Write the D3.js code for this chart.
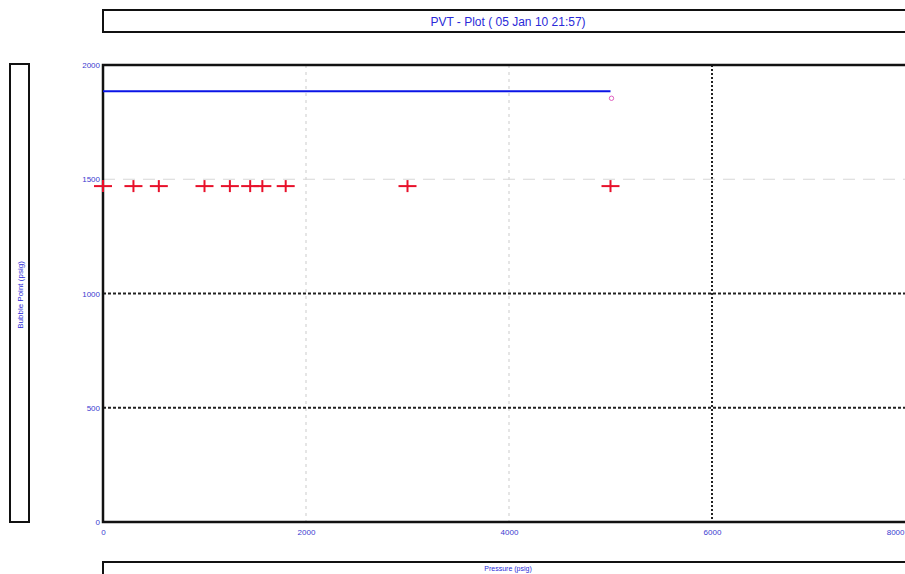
<!DOCTYPE html>
<html lang="en">
  <head>
    <meta charset="utf-8">
    <title>PVT - Plot</title>
    <script src="https://cdn.jsdelivr.net/npm/d3@7"></script>
    <style>
    body{margin:0;background:#fff;}
    svg{display:block;font-family:"Liberation Sans",Arial,sans-serif;}
    .box{fill:none;stroke:#111;stroke-width:2px;}
    .axis text{fill:#3b3bd0;font-size:8px;}
    .lbl{fill:#2a2ad8;}
    </style>
  </head>
  <body>
    <svg></svg>
    <script>
      // measured samples (psig)
      var pressure=[0,300,550,1000,1250,1450,1570,1800,3000,5000];
      var bubblePoint=[1470,1470,1470,1470,1470,1470,1470,1470,1470,1470];
      // calculated bubble point curve
      var curvePressure=[0,5000];
      var curveBubble=[1885,1885];
      var xTicks=[0,2000,4000,6000,8000];
      var yTicks=[0,500,1000,1500,2000];

      var width=905, height=574;
      var padLeft=103, padTop=65, padBottom=522, padRight=915;

      var svg=d3.select("svg").attr("width",width).attr("height",height);

      var xscale=d3.scaleLinear().domain([0,8000]).range([padLeft,padRight]);
      var yscale=d3.scaleLinear().domain([0,2000]).range([padBottom,padTop]);

      // outer frames
      svg.append("rect").attr("class","box")
         .attr("x",103).attr("y",10).attr("width",820).attr("height",22);
      svg.append("text").attr("class","lbl")
         .attr("x",508).attr("y",26).attr("text-anchor","middle")
         .style("font-size","12px")
         .text("PVT - Plot ( 05 Jan 10  21:57)");

      svg.append("rect").attr("class","box")
         .attr("x",10).attr("y",64).attr("width",19).attr("height",458);
      svg.append("text").attr("class","lbl")
         .attr("transform","translate(23,295) rotate(-90)")
         .attr("text-anchor","middle")
         .style("font-size","8px")
         .text("Bubble Point (psig)");

      svg.append("rect").attr("class","box")
         .attr("x",103).attr("y",562).attr("width",820).attr("height",30);
      svg.append("text").attr("class","lbl")
         .attr("x",508).attr("y",571).attr("text-anchor","middle")
         .style("font-size","7px")
         .text("Pressure (psig)");

      // grid
      var grid=svg.append("g");
      grid.selectAll("line.vx")
          .data(xTicks.filter(function(d){return d>0&&d<8000;}))
          .enter().append("line")
          .attr("x1",function(d){return xscale(d);})
          .attr("x2",function(d){return xscale(d);})
          .attr("y1",padTop).attr("y2",padBottom)
          .attr("stroke",function(d){return d==6000?"#222":"#d4d4d4";})
          .attr("stroke-width",function(d){return d==6000?2:1.2;})
          .attr("stroke-dasharray",function(d){return d==6000?"2,2":"3,4";});
      grid.selectAll("line.hy")
          .data(yTicks.filter(function(d){return d>0&&d<2000;}))
          .enter().append("line")
          .attr("y1",function(d){return yscale(d);})
          .attr("y2",function(d){return yscale(d);})
          .attr("x1",padLeft).attr("x2",padRight)
          .attr("stroke",function(d){return d==1500?"#d8d8d8":"#222";})
          .attr("stroke-width",function(d){return d==1500?1.2:2;})
          .attr("stroke-dasharray",function(d){return d==1500?"12,8":"3,2";});

      // axes
      var xAxis=d3.axisBottom(xscale).tickValues(xTicks).tickSize(0).tickPadding(7)
                  .tickFormat(d3.format("d"));
      var yAxis=d3.axisLeft(yscale).tickValues(yTicks).tickSize(0).tickPadding(3)
                  .tickFormat(d3.format("d"));
      svg.append("g").attr("class","axis")
         .attr("transform","translate(0,"+padBottom+")")
         .call(xAxis).call(function(g){
           g.select(".domain").remove();
           // last label kept inside the window
           g.selectAll(".tick").filter(function(d){return d==8000;})
            .select("text").attr("text-anchor","end").attr("x",width-padRight-1);
         });
      svg.append("g").attr("class","axis")
         .attr("transform","translate("+padLeft+",0)")
         .call(yAxis).call(function(g){g.select(".domain").remove();});

      // plot frame (left, top, bottom)
      svg.append("path")
         .attr("d","M"+padRight+","+padTop+"H"+padLeft+"V"+padBottom+"H"+padRight)
         .attr("fill","none").attr("stroke","#111").attr("stroke-width",2.5);

      // curve
      var line=d3.line()
                 .x(function(d){return xscale(d[0]);})
                 .y(function(d){return yscale(d[1]);});
      svg.append("path")
         .datum(d3.zip(curvePressure,curveBubble))
         .attr("d",line)
         .attr("fill","none").attr("stroke","#0a14e6").attr("stroke-width",2);
      svg.append("circle")
         .attr("cx",xscale(curvePressure[curvePressure.length-1])+1)
         .attr("cy",yscale(curveBubble[curveBubble.length-1])+7)
         .attr("r",2.2)
         .attr("fill","none").attr("stroke","#e060c0").attr("stroke-width",1);

      // measured points as crosses
      var pts=d3.zip(pressure,bubblePoint);
      var cross=svg.append("g").selectAll("g").data(pts).enter().append("g")
                   .attr("transform",function(d){
                     return "translate("+xscale(d[0])+","+yscale(d[1])+")";});
      cross.append("line").attr("x1",-9).attr("x2",9).attr("y1",0).attr("y2",0)
           .attr("stroke","#e8102a").attr("stroke-width",2);
      cross.append("line").attr("x1",0).attr("x2",0).attr("y1",-6).attr("y2",6)
           .attr("stroke","#e8102a").attr("stroke-width",2);
    </script>
  </body>
</html>
